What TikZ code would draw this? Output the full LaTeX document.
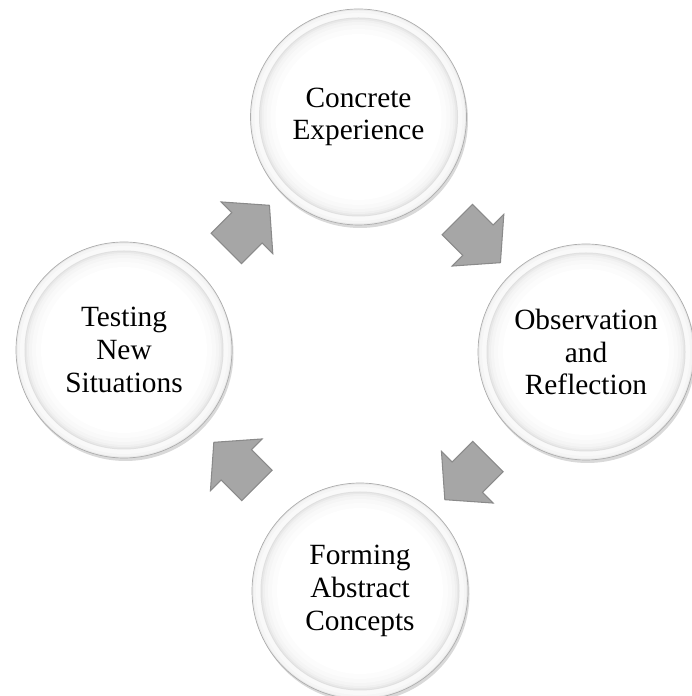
\documentclass[tikz,border=0pt]{standalone}
\usepackage{fontspec}
\setmainfont{Liberation Serif}
\usetikzlibrary{shapes.arrows,shadows,calc}

\definecolor{arrowgray}{RGB}{166,166,166}
\definecolor{arrowedge}{RGB}{138,138,138}

\tikzset{
  stage/.style={circle, minimum size=4.32cm, inner sep=0pt, align=center,
    draw=black!32, line width=0.4pt, fill=black!8,
    drop shadow={opacity=0.3, shadow xshift=0.03cm, shadow yshift=-0.06cm},
    path picture={
      \foreach \r/\c in {2.13/4, 2.08/2.5, 1.99/12, 1.97/9, 1.94/6, 1.90/4, 1.84/2.5, 1.76/1.2, 1.66/0}
        \fill[black!\c] (path picture bounding box.center) circle (\r);
    },
    font=\fontsize{16.7}{18.6}\selectfont},
  turn/.style={single arrow, minimum height=1.22cm, minimum width=1.44cm,
    single arrow head extend=0.3cm, single arrow tip angle=98,
    inner xsep=0pt, inner ysep=0.42cm,
    fill=arrowgray, draw=arrowedge, line width=0.6pt}
}

\begin{document}
\begin{tikzpicture}
  \useasboundingbox (0,0) rectangle (13.82,13.92);

  \node[stage] (concrete) at (7.17,11.58) {Concrete\\Experience};
  \node[stage] (observe) at (11.72,6.88) {Observation\\and\\Reflection};
  \node[stage] (abstract) at (7.20,2.10) {Forming\\Abstract\\Concepts};
  \node[stage] (testing) at (2.48,6.92) {Testing\\New\\Situations};

  \node[turn, rotate=45] (toconcrete) at ($(testing)!0.5!(concrete)$) {};
  \node[turn, rotate=-45] (toobserve) at ($(concrete)!0.5!(observe)$) {};
  \node[turn, rotate=-135] (toabstract) at ($(observe)!0.5!(abstract)$) {};
  \node[turn, rotate=135] (totesting) at ($(abstract)!0.5!(testing)$) {};
\end{tikzpicture}
\end{document}
